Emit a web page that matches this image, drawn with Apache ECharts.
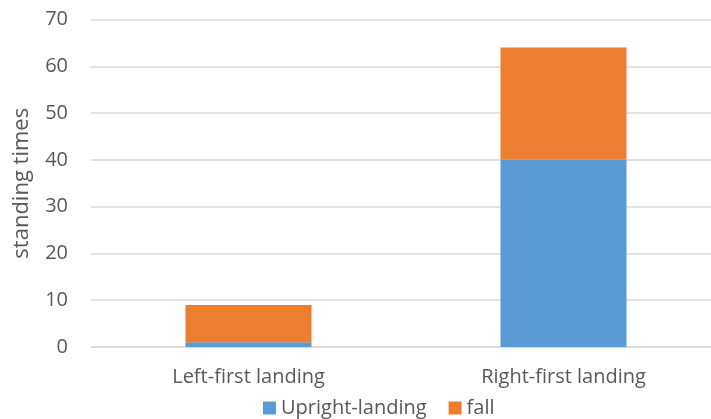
<!DOCTYPE html>
<html>
<head>
<meta charset="utf-8">
<script src="https://cdn.jsdelivr.net/npm/echarts@6/dist/echarts.min.js"></script>
<style>
  html, body { margin: 0; padding: 0; background: #fff; }
  #chart { width: 711px; height: 419px; }
</style>
</head>
<body>
<div id="chart"></div>
<script>
// Landing side vs. outcome counts
const categories = ['Left-first landing', 'Right-first landing'];
const uprightLanding = [1, 40];
const fall = [8, 24];
const yTicks = { min: 0, max: 70, interval: 10 };

const font = 'Open Sans';
const textColor = '#595959';
const chart = echarts.init(document.getElementById('chart'));
chart.setOption({
  animation: false,
  textStyle: { fontFamily: font },
  grid: {
    left: 91, top: 19.5, width: 630, height: 327.5,
    containLabel: false,
    outerBoundsMode: 'none'
  },
  legend: {
    top: 393,
    left: 258,
    itemWidth: 13,
    itemHeight: 13,
    itemGap: 22,
    icon: 'rect',
    textStyle: { fontFamily: font, fontSize: 20, color: textColor },
    data: ['Upright-landing', 'fall']
  },
  xAxis: {
    type: 'category',
    data: categories,
    axisLine: { lineStyle: { color: '#d9d9d9', width: 1.5 } },
    axisTick: { show: false },
    axisLabel: { fontFamily: font, fontSize: 20, color: textColor, margin: 20 }
  },
  yAxis: {
    type: 'value',
    min: yTicks.min,
    max: yTicks.max,
    interval: yTicks.interval,
    name: 'standing times',
    nameLocation: 'middle',
    nameGap: 58,
    nameTextStyle: { fontFamily: font, fontSize: 22, color: textColor },
    axisLine: { show: false },
    axisTick: { show: false },
    splitLine: { lineStyle: { color: '#d9d9d9', width: 1.5 } },
    axisLabel: { fontFamily: font, fontSize: 20, color: textColor, margin: 23 }
  },
  series: [
    {
      name: 'Upright-landing',
      type: 'bar',
      stack: 'total',
      data: uprightLanding,
      barCategoryGap: '60%',
      itemStyle: { color: '#5b9bd5' }
    },
    {
      name: 'fall',
      type: 'bar',
      stack: 'total',
      data: fall,
      barCategoryGap: '60%',
      itemStyle: { color: '#ed7d31' }
    }
  ]
});
</script>
</body>
</html>
